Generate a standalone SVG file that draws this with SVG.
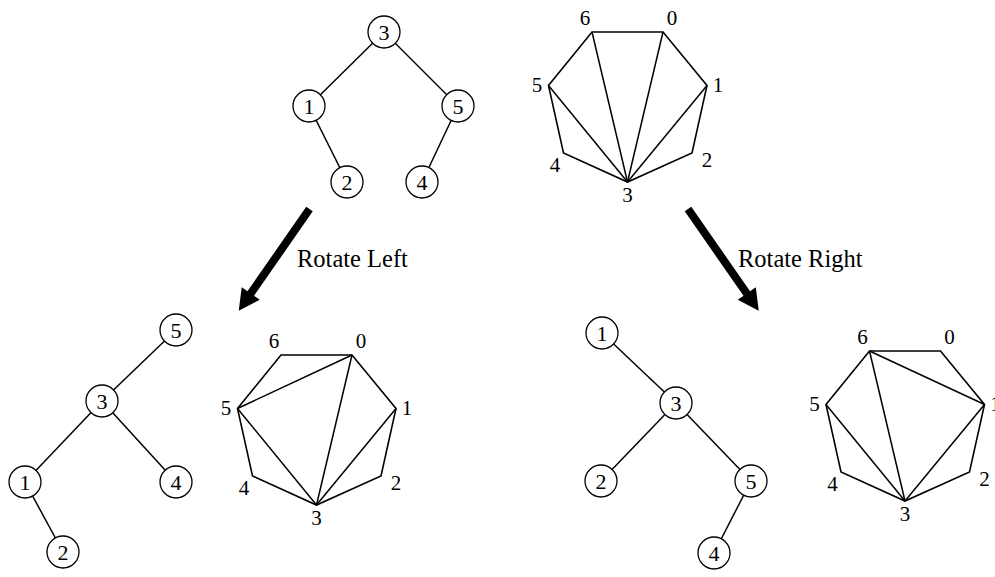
<svg xmlns="http://www.w3.org/2000/svg" width="995" height="577" viewBox="0 0 995 577">
  <style>
    text { font-family: "Liberation Serif", "Times New Roman", serif; fill: #000; }
    .node circle { fill: #fff; stroke: #000; stroke-width: 1.3; }
    .node text { font-size: 22px; text-anchor: middle; }
    .edges line { stroke: #000; stroke-width: 1.5; }
    .poly line { stroke: #000; stroke-width: 1.5; }
    .label { font-size: 24.5px; }
  </style>
  <defs>
    <!-- thick arrow pointing along +y, tip at (0,124) -->
    <path id="bigArrow" d="M-4,0 L4,0 L4,103 L11,103 L0,124 L-11,103 L-4,103 Z" fill="#000"/>
    <!-- heptagon with vertex 6 at origin -->
    <polygon id="hept" points="0,0 71,0 115,53.5 100,121 35.5,150 -28.5,121 -43.5,53.5"
             fill="none" stroke="#000" stroke-width="1.6"/>
    <g id="heptLabels" font-family="'Liberation Serif', 'Times New Roman', serif" font-size="21" text-anchor="middle" fill="#000">
      <text x="-7" y="-7">6</text>
      <text x="80" y="-7">0</text>
      <text x="126" y="60">1</text>
      <text x="-55" y="60">5</text>
      <text x="115" y="135">2</text>
      <text x="-37" y="140">4</text>
      <text x="35.5" y="170">3</text>
    </g>
  </defs>

  <!-- tree edges -->
  <g id="connectors" class="edges">
    <!-- top tree -->
    <line x1="384" y1="32" x2="309" y2="106"/>
    <line x1="384" y1="32" x2="458" y2="106"/>
    <line x1="309" y1="106" x2="347" y2="182"/>
    <line x1="458" y1="106" x2="422" y2="182"/>
    <!-- left-rotated tree -->
    <line x1="176" y1="330" x2="102" y2="401"/>
    <line x1="102" y1="401" x2="25" y2="482"/>
    <line x1="102" y1="401" x2="176" y2="482"/>
    <line x1="25" y1="482" x2="63" y2="552"/>
    <!-- right-rotated tree -->
    <line x1="602" y1="333" x2="676" y2="403"/>
    <line x1="676" y1="403" x2="601" y2="481"/>
    <line x1="676" y1="403" x2="751" y2="481"/>
    <line x1="751" y1="481" x2="714" y2="553"/>
  </g>

  <!-- top tree nodes -->
  <g id="t0-n3" class="node"><circle cx="384" cy="32" r="16"/><text x="384" y="39.5">3</text></g>
  <g id="t0-n1" class="node"><circle cx="309" cy="106" r="16"/><text x="309" y="113.5">1</text></g>
  <g id="t0-n5" class="node"><circle cx="458" cy="106" r="16"/><text x="458" y="113.5">5</text></g>
  <g id="t0-n2" class="node"><circle cx="347" cy="182" r="16"/><text x="347" y="189.5">2</text></g>
  <g id="t0-n4" class="node"><circle cx="422" cy="182" r="16"/><text x="422" y="189.5">4</text></g>

  <!-- left-rotated tree nodes -->
  <g id="t1-n5" class="node"><circle cx="176" cy="330" r="16"/><text x="176" y="337.5">5</text></g>
  <g id="t1-n3" class="node"><circle cx="102" cy="401" r="16"/><text x="102" y="408.5">3</text></g>
  <g id="t1-n1" class="node"><circle cx="25" cy="482" r="16"/><text x="25" y="489.5">1</text></g>
  <g id="t1-n4" class="node"><circle cx="176" cy="482" r="16"/><text x="176" y="489.5">4</text></g>
  <g id="t1-n2" class="node"><circle cx="63" cy="552" r="16"/><text x="63" y="559.5">2</text></g>

  <!-- right-rotated tree nodes -->
  <g id="t2-n1" class="node"><circle cx="602" cy="333" r="16"/><text x="602" y="340.5">1</text></g>
  <g id="t2-n3" class="node"><circle cx="676" cy="403" r="16"/><text x="676" y="410.5">3</text></g>
  <g id="t2-n2" class="node"><circle cx="601" cy="481" r="16"/><text x="601" y="488.5">2</text></g>
  <g id="t2-n5" class="node"><circle cx="751" cy="481" r="16"/><text x="751" y="488.5">5</text></g>
  <g id="t2-n4" class="node"><circle cx="714" cy="553" r="16"/><text x="714" y="560.5">4</text></g>

  <!-- triangulated heptagons -->
  <g id="poly-top" class="poly" transform="translate(592,32)">
    <use href="#hept"/>
    <line x1="0" y1="0" x2="35.5" y2="150"/>
    <line x1="71" y1="0" x2="35.5" y2="150"/>
    <line x1="-43.5" y1="53.5" x2="35.5" y2="150"/>
    <line x1="115" y1="53.5" x2="35.5" y2="150"/>
    <use href="#heptLabels"/>
  </g>
  <g id="poly-left" class="poly" transform="translate(281,355)">
    <use href="#hept"/>
    <line x1="-43.5" y1="53.5" x2="71" y2="0"/>
    <line x1="71" y1="0" x2="35.5" y2="150"/>
    <line x1="-43.5" y1="53.5" x2="35.5" y2="150"/>
    <line x1="115" y1="53.5" x2="35.5" y2="150"/>
    <use href="#heptLabels"/>
  </g>
  <g id="poly-right" class="poly" transform="translate(869.5,351)">
    <use href="#hept"/>
    <line x1="0" y1="0" x2="115" y2="53.5"/>
    <line x1="0" y1="0" x2="35.5" y2="150"/>
    <line x1="-43.5" y1="53.5" x2="35.5" y2="150"/>
    <line x1="115" y1="53.5" x2="35.5" y2="150"/>
    <use href="#heptLabels"/>
  </g>

  <!-- rotation arrows -->
  <g id="arrow-left">
    <use href="#bigArrow" transform="translate(309.5,209) rotate(34.8)"/>
    <text class="label" x="297" y="267">Rotate Left</text>
  </g>
  <g id="arrow-right">
    <use href="#bigArrow" transform="translate(688,209) rotate(-34.8)"/>
    <text class="label" x="738" y="267">Rotate Right</text>
  </g>
</svg>
